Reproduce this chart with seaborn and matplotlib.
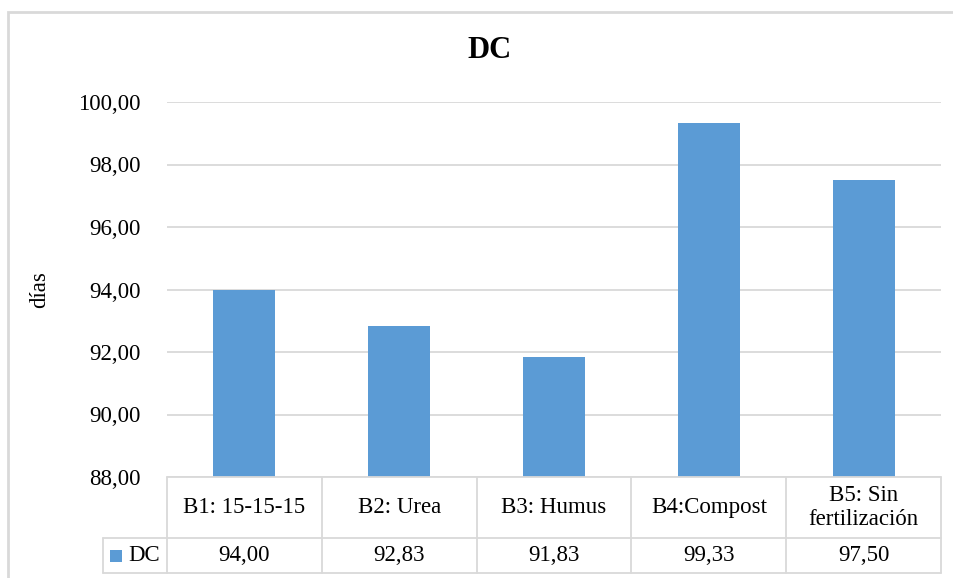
import numpy as np
import matplotlib
matplotlib.use("Agg")
import matplotlib.pyplot as plt
import matplotlib.transforms as mtransforms
from matplotlib.patches import Rectangle
import seaborn as sns

# ==========================================================
# DATA
# ==========================================================
categories = ["B1: 15-15-15", "B2: Urea", "B3: Humus", "B4:Compost", "B5: Sin\nfertilización"]
dc_values = [94.00, 92.83, 91.83, 99.33, 97.50]
y_ticks = [88, 90, 92, 94, 96, 98, 100]
series_name = "DC"

BAR_COLOR = "#5b9bd5"
LINE_COLOR = "#d9d9d9"
FS = 16.5


def comma(v):
    return f"{v:.2f}".replace(".", ",")


sns.set_style("white")
plt.rcParams["font.family"] = ["Liberation Serif", "DejaVu Serif"]
plt.rcParams["text.color"] = "black"
plt.rcParams["ytick.color"] = "black"

W, H = 954, 578
fig = plt.figure(figsize=(W / 100, H / 100), dpi=100)

# plot area in pixels: x 167..941, y 102..477
ax = fig.add_axes([167 / W, 1 - 477 / H, (941 - 167) / W, (477 - 102) / H])

sns.barplot(x=categories, y=dc_values, color=BAR_COLOR, saturation=1,
            width=0.4, linewidth=0, ax=ax)

ax.set_ylim(88, 100)
ax.set_xlim(-0.5, len(categories) - 0.5)
ax.set_yticks(y_ticks)
ax.set_yticklabels([comma(t) for t in y_ticks], fontsize=FS)
ax.tick_params(axis="y", length=0, pad=19, colors="black")
ax.set_xticks([])
ax.set_xlabel("")
ax.set_ylabel("")
ax.grid(axis="y", color=LINE_COLOR, linewidth=1.3)
ax.set_axisbelow(True)
for s in ax.spines.values():
    s.set_visible(False)

fig.text(40 / W, 1 - 290 / H, "días", rotation=90, ha="center", va="center",
         fontsize=FS)

# ==========================================================
# DATA TABLE BELOW THE AXES
# ==========================================================
trans = mtransforms.blended_transform_factory(ax.transData, ax.transAxes)
ax_h = 477 - 102
y_head = -(538 - 477) / ax_h
y_bot = -(573 - 477) / ax_h
px_per_cat = (941 - 167) / len(categories)
x_leg = -0.5 - (167 - 103) / px_per_cat
x_end = len(categories) - 0.5

line_kw = dict(color=LINE_COLOR, linewidth=1.3, transform=trans, clip_on=False)
ax.plot([-0.5, x_end], [0, 0], **line_kw)
ax.plot([x_leg, x_end], [y_head, y_head], **line_kw)
ax.plot([x_leg, x_end], [y_bot, y_bot], **line_kw)
for i in range(len(categories) + 1):
    ax.plot([i - 0.5, i - 0.5], [y_bot, 0], **line_kw)
ax.plot([x_leg, x_leg], [y_bot, y_head], **line_kw)

for i, (cat, v) in enumerate(zip(categories, dc_values)):
    ax.text(i, (0 + y_head) / 2, cat, ha="center", va="center", fontsize=FS,
            transform=trans, linespacing=1.15)
    ax.text(i, (y_head + y_bot) / 2, comma(v), ha="center", va="center",
            fontsize=FS, transform=trans)

# legend key in the table
x_sq = -0.5 - (167 - 116) / px_per_cat
x_lbl = -0.5 - (167 - 128) / px_per_cat
ax.scatter([x_sq], [(y_head + y_bot) / 2], marker="s", s=80, color=BAR_COLOR,
           linewidths=0, transform=trans, clip_on=False)
ax.text(x_lbl, (y_head + y_bot) / 2, series_name, ha="left", va="center",
        fontsize=FS, transform=trans)

# title and chart border
fig.text(490 / W, 1 - 50 / H, "DC", ha="center", va="center",
         fontsize=22, fontweight="bold")
fig.patches.append(Rectangle((8 / W, -0.05), 1.1, 1 - 12 / H + 0.05,
                             transform=fig.transFigure, fill=False,
                             edgecolor=LINE_COLOR, linewidth=2))

fig.savefig("out.png", dpi=100)
